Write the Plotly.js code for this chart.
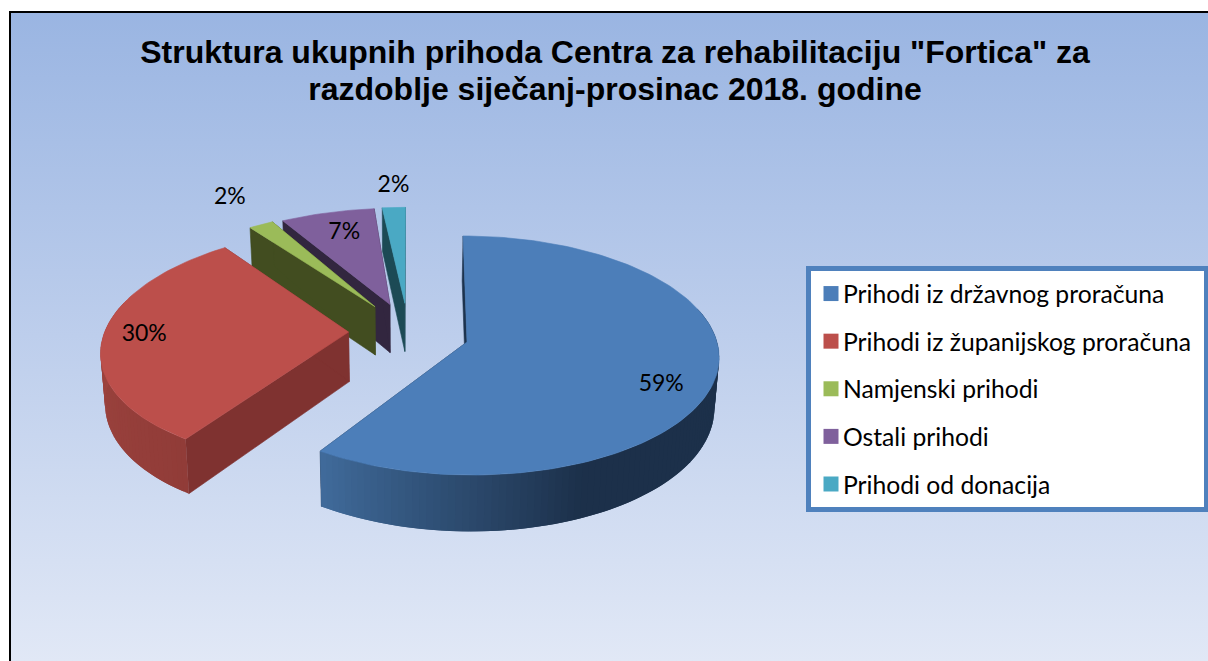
<!DOCTYPE html>
<html>
<head>
<meta charset="utf-8">
<script src="https://cdn.plot.ly/plotly-3.0.1.min.js"></script>
<style>
html,body{margin:0;padding:0;background:#fff;width:1208px;height:661px;overflow:hidden}
#panel{position:absolute;left:9px;top:11px;width:1199px;height:650px;box-sizing:border-box;border-left:2px solid #000;border-top:2px solid #000;
background:linear-gradient(180deg,#9ab5e2 0%,#b6c9ea 40%,#e1e8f6 100%)}
#chart{position:absolute;left:0;top:0;width:1208px;height:661px}
</style>
</head>
<body>
<div id="panel"></div>
<div id="chart"></div>
<script>
// Chart content
const titleLines = ['Struktura ukupnih prihoda Centra za rehabilitaciju "Fortica" za', 'razdoblje siječanj-prosinac 2018. godine'];
const categories = ['Prihodi iz državnog proračuna', 'Prihodi iz županijskog proračuna', 'Namjenski prihodi', 'Ostali prihodi', 'Prihodi od donacija'];
// Shares; the labels show them rounded
const values = [59.2, 30.4, 1.8, 6.9, 1.7];

// Styles
const topColors = ['#4c7eb9', '#bc4f4b', '#9bbb59', '#7f609c', '#4aa9c4'];
const edgeColors = ['#1d334e', '#7f3230', '#424d20', '#32263f', '#1c4a55'];
const rimNear = ['#1c304a', '#913c38', '#424d20', '#32263f', '#1c4a55'];
const rimFar = ['#406b9b', '#a84a45', '#424d20', '#32263f', '#1c4a55'];
const rimFlat = [0.735, 0.0, 0, 0, 0];

// Explosion of each slice, its perspective skew, and label placement (disc units)
const pullU = [0.26, -0.216, -0.112, -0.05, 0.012];
const pullV = [0.0, 0.085, 0.31, 0.33, 0.34];
const skew = [0.012, 0.045, 0.048, 0.03, 0.004];
const radU = [1, 0.985, 1, 1, 1];
const radV = [1, 1, 0.98, 0.97, 0.97];
const labelU = [0.736, -0.822, -0.686, -0.208, -0.052];
const labelV = [-0.35, -0.025, 1.10, 0.70, 1.21];

// Projection of the tilted disc
const CX = 402, CY = 342, RX = 250, RY = 118, PERSP = 0.113, DEPTH = 50;
function proj(U, V, low) {
  const s = 1 / (1 + PERSP * V);
  const x = CX + RX * U * s * (low ? 0.985 : 1);
  const y = CY - RY * V * s + (low ? DEPTH * s : 0);
  return [x, y];
}
function hexMix(a, b, t) {
  const p = h => [1, 3, 5].map(i => parseInt(h.substr(i, 2), 16));
  const A = p(a), B = p(b);
  return 'rgb(' + A.map((v, i) => Math.round(v + (B[i] - v) * t)).join(',') + ')';
}
function poly(pts, color, name, lineW) {
  return {x: pts.map(p => p[0]).concat(pts[0][0]), y: pts.map(p => p[1]).concat(pts[0][1]),
    mode: 'lines', fill: 'toself', fillcolor: color, line: {color: color, width: lineW === undefined ? 0.6 : lineW},
    showlegend: false, hoverinfo: name ? 'text' : 'skip', text: name || '', type: 'scatter'};
}

const total = values.reduce((a, b) => a + b, 0);
const slices = [];
let acc = 0;
values.forEach((v, i) => {
  slices.push({a0: acc / total * 2 * Math.PI, a1: (acc + v) / total * 2 * Math.PI, i});
  acc += v;
});
const pctText = values.map(v => Math.round(v / total * 100) + '%');

const traces = [];
// far slices first, the big front slice last
[4, 3, 2, 1, 0].forEach(i => {
  const s = slices[i], u0 = pullU[i], v0 = pullV[i];
  const pt = a => {
    const c = Math.cos(a) * radV[i];
    return [u0 + Math.sin(a) * radU[i] + skew[i] * c, v0 + c];
  };
  // radial walls
  [s.a0, s.a1].forEach(a => {
    const [u, v] = pt(a);
    traces.push(poly([proj(u0, v0, false), proj(u, v, false), proj(u, v, true), proj(u0, v0, true)], edgeColors[i]));
  });
  // rim wall, shaded along the arc; each strip overlaps the next to hide seams
  const n = Math.max(2, Math.ceil((s.a1 - s.a0) / (1.5 * Math.PI / 180)));
  const step = (s.a1 - s.a0) / n;
  for (let k = 0; k < n; k++) {
    const a = s.a0 + step * k, b = Math.min(s.a1, a + step * 2);
    if (Math.cos(a) > 0.25 && Math.cos(b) > 0.25) continue;
    const [ua, va] = pt(a), [ub, vb] = pt(b);
    const t = (k + 0.5) / n;
    const f = Math.max(0, (t - rimFlat[i]) / (1 - rimFlat[i]));
    const col = i === 1 ? hexMix(rimFar[i], rimNear[i], 1 - t) : hexMix(rimNear[i], rimFar[i], f);
    traces.push(poly([proj(ua, va, false), proj(ub, vb, false), proj(ub, vb, true), proj(ua, va, true)], col, '', 0));
  }
  // top face
  const top = [proj(u0, v0, false)];
  const m = Math.max(6, Math.ceil((s.a1 - s.a0) / (1.5 * Math.PI / 180)));
  for (let k = 0; k <= m; k++) {
    const [u, v] = pt(s.a0 + (s.a1 - s.a0) * k / m);
    top.push(proj(u, v, false));
  }
  traces.push(poly(top, topColors[i], categories[i] + ': ' + pctText[i]));
});

// percentage labels
const lab = values.map((v, i) => proj(pullU[i] + labelU[i], pullV[i] + labelV[i], false));
traces.push({type: 'scatter', mode: 'text', x: lab.map(p => p[0]), y: lab.map(p => p[1]),
  text: pctText, textposition: 'middle center',
  textfont: {family: 'Lato, sans-serif', size: 23, color: '#000'}, showlegend: false, hoverinfo: 'skip'});

// legend entries
categories.forEach((c, i) => traces.push({type: 'scatter', mode: 'markers', x: [null], y: [null], name: c,
  legendgroup: 'g' + i, marker: {symbol: 'square', size: 15, color: topColors[i]}, hoverinfo: 'skip'}));

const layout = {
  width: 1208, height: 661, margin: {l: 0, r: 0, t: 0, b: 0, autoexpand: false},
  paper_bgcolor: 'rgba(0,0,0,0)', plot_bgcolor: 'rgba(0,0,0,0)',
  title: {text: titleLines.join('<br>'), x: 615 / 1208, xanchor: 'center', y: 1 - 63 / 661, yanchor: 'middle',
    font: {family: 'Liberation Sans, Arial, sans-serif', size: 32, color: '#000', weight: 700}},
  xaxis: {range: [0, 1208], visible: false, fixedrange: true},
  yaxis: {range: [661, 0], visible: false, fixedrange: true},
  showlegend: true,
  legend: {x: 806 / 1208, y: 1 - 266 / 661, xanchor: 'left', yanchor: 'top', bgcolor: '#fff',
    bordercolor: '#4f81bd', borderwidth: 5, tracegroupgap: 12.5, traceorder: 'grouped',
    entrywidth: 340, entrywidthmode: 'pixels',
    font: {family: 'Lato, sans-serif', size: 24.7, color: '#000'}, itemclick: false, itemdoubleclick: false}
};
Plotly.newPlot('chart', traces, layout, {displayModeBar: false, responsive: false}).then(gd => {
  // tighter title leading and marker-to-text gap than Plotly's defaults
  gd.querySelectorAll('.gtitle tspan.line').forEach((t, i) => { if (i > 0) t.setAttribute('dy', '1.15em'); });
  gd.querySelectorAll('.legendtext').forEach(t => t.setAttribute('x', parseFloat(t.getAttribute('x')) - 8));
});
</script>
</body>
</html>
